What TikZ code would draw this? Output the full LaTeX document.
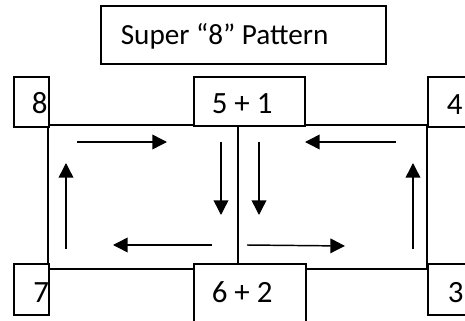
\documentclass[tikz,border=0pt]{standalone}
\usepackage{fontspec}
\setmainfont{Carlito}
\usetikzlibrary{arrows.meta}
\begin{document}
\begin{tikzpicture}[x=0.75pt,y=-0.75pt,
  box/.style={draw,line width=1.3pt,fill=white,inner sep=0pt,anchor=north west},
  lbl/.style={anchor=base west,inner sep=0pt,font=\fontsize{23.2pt}{26pt}\selectfont},
  ttl/.style={anchor=base west,inner sep=0pt,font=\fontsize{21.9pt}{24pt}\selectfont},
  edge/.style={line width=1.4pt},
  flow/.style={line width=1.1pt,-{Triangle[length=11pt,width=11pt]}}]
\useasboundingbox (0,0) rectangle (465,321);
\clip (0,0) rectangle (465,321);
% main frame
\coordinate (TL) at (48,125);
\coordinate (TR) at (427,125);
\coordinate (BL) at (48,269);
\coordinate (BR) at (427,269);
\coordinate (D1) at (238,125);
\coordinate (D2) at (238,263);
\draw[edge] (TL) -- (TR) -- (BR) -- (BL) -- cycle;
\draw[edge] (D1) -- (D2);
% boxes
\node[box,minimum width=285*0.75pt,minimum height=58*0.75pt] (title) at (100,5) {};
\node[box,minimum width=35*0.75pt,minimum height=50*0.75pt] (b8) at (13,76) {};
\node[box,minimum width=111*0.75pt,minimum height=49*0.75pt] (b51) at (193,76) {};
\node[box,minimum width=60*0.75pt,minimum height=50*0.75pt] (b4) at (427,76) {};
\node[box,minimum width=35*0.75pt,minimum height=51*0.75pt] (b7) at (13,263) {};
\node[box,minimum width=112*0.75pt,minimum height=70*0.75pt] (b62) at (193,263) {};
\node[box,minimum width=60*0.75pt,minimum height=51*0.75pt] (b3) at (427,263) {};
% labels
\node[ttl] (ttitle) at (120.5,45) {Super “8” Pattern};
\node[lbl] (t8) at (31.5,114) {8};
\node[lbl] (t51) at (211.5,114) {5 + 1};
\node[lbl] (t4) at (446.5,115) {4};
\node[lbl] (t7) at (33,302) {7};
\node[lbl] (t62) at (211.5,302) {6 + 2};
\node[lbl] (t3) at (447.5,302) {3};
% arrows
\coordinate (a1s) at (77,142);  \coordinate (a1e) at (167,142);
\coordinate (a2s) at (221,142); \coordinate (a2e) at (221,215);
\coordinate (a3s) at (212,245); \coordinate (a3e) at (113,245);
\coordinate (a4s) at (66,249);  \coordinate (a4e) at (66,163);
\coordinate (a5s) at (259,142); \coordinate (a5e) at (259,215);
\coordinate (a6s) at (247,245); \coordinate (a6e) at (345,246);
\coordinate (a7s) at (413,249); \coordinate (a7e) at (413,163);
\coordinate (a8s) at (396,142); \coordinate (a8e) at (305,142);
\draw[flow] (a1s) -- (a1e);
\draw[flow] (a2s) -- (a2e);
\draw[flow] (a3s) -- (a3e);
\draw[flow] (a4s) -- (a4e);
\draw[flow] (a5s) -- (a5e);
\draw[flow] (a6s) -- (a6e);
\draw[flow] (a7s) -- (a7e);
\draw[flow] (a8s) -- (a8e);
\end{tikzpicture}
\end{document}
